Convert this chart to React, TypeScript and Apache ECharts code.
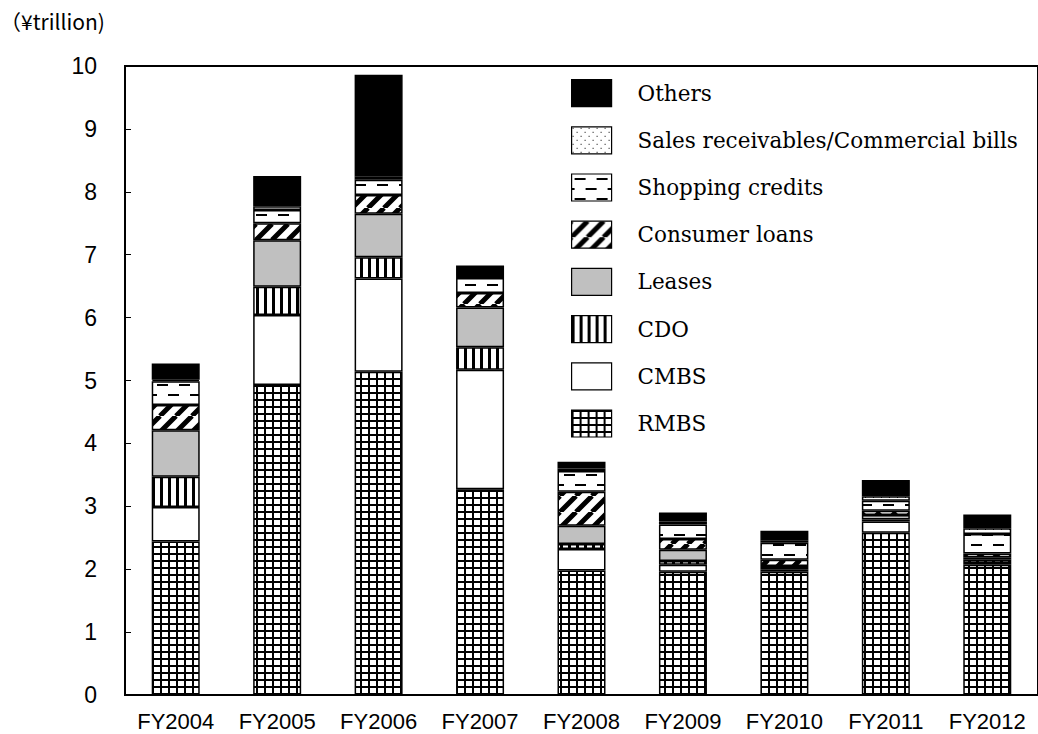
import React, { useEffect, useRef } from 'react';
import * as echarts from 'echarts';

const categories = ['FY2004', 'FY2005', 'FY2006', 'FY2007', 'FY2008', 'FY2009', 'FY2010', 'FY2011', 'FY2012'];
const rmbs = [2.44, 4.93, 5.14, 3.27, 1.98, 1.96, 1.96, 2.58, 2.07];
const cmbs = [0.55, 1.11, 1.48, 1.9, 0.34, 0.11, 0.03, 0.18, 0.03];
const cdo = [0.48, 0.45, 0.34, 0.36, 0.08, 0.06, 0.03, 0.03, 0.05];
const leases = [0.74, 0.74, 0.69, 0.63, 0.29, 0.18, 0.03, 0.07, 0.04];
const consumerLoans = [0.4, 0.27, 0.3, 0.23, 0.54, 0.17, 0.1, 0.07, 0.06];
const shoppingCredits = [0.38, 0.21, 0.24, 0.24, 0.33, 0.23, 0.27, 0.16, 0.31];
const salesReceivables = [0.02, 0.06, 0.05, 0.03, 0.04, 0.05, 0.04, 0.07, 0.09];
const others = [0.26, 0.48, 1.62, 0.17, 0.11, 0.14, 0.15, 0.26, 0.22];

const yTicks = { min: 0, max: 10, interval: 1 };
const unitLabel = '（¥trillion)';

function makePattern(w: number, h: number, draw: (ctx: CanvasRenderingContext2D) => void): any {
  const c = document.createElement('canvas');
  c.width = w;
  c.height = h;
  const ctx = c.getContext('2d')!;
  ctx.fillStyle = '#fff';
  ctx.fillRect(0, 0, w, h);
  ctx.fillStyle = '#000';
  ctx.strokeStyle = '#000';
  draw(ctx);
  return { image: c.toDataURL(), imageWidth: w, imageHeight: h, repeat: 'repeat' };
}

export default function App() {
  const ref = useRef<HTMLDivElement>(null);
  useEffect(() => {
    if (!ref.current) return;
    const chart = echarts.init(ref.current, null, { renderer: 'svg' });

    const gridPat = makePattern(8, 7, (ctx) => {
      ctx.fillRect(0, 0, 2, 7);
      ctx.fillRect(0, 0, 8, 2);
    });
    const vStripe = makePattern(8, 8, (ctx) => {
      ctx.fillRect(0, 0, 3, 8);
    });
    const diag = makePattern(16, 16, (ctx) => {
      ctx.lineWidth = 5;
      ctx.beginPath();
      ctx.moveTo(-16, 16); ctx.lineTo(0, 0);
      ctx.moveTo(0, 16); ctx.lineTo(16, 0);
      ctx.moveTo(16, 16); ctx.lineTo(32, 0);
      ctx.stroke();
    });
    const dashes = makePattern(22, 20, (ctx) => {
      ctx.fillRect(3, 4, 11, 2);
      ctx.fillRect(14, 14, 8, 2);
      ctx.fillRect(0, 14, 3, 2);
    });
    const dots = makePattern(8, 8, (ctx) => {
      ctx.fillRect(1, 1, 1, 1);
      ctx.fillRect(5, 5, 1, 1);
    });

    const defs: [string, number[], any][] = [
      ['RMBS', rmbs, gridPat],
      ['CMBS', cmbs, '#ffffff'],
      ['CDO', cdo, vStripe],
      ['Leases', leases, '#c0c0c0'],
      ['Consumer loans', consumerLoans, diag],
      ['Shopping credits', shoppingCredits, dashes],
      ['Sales receivables/Commercial bills', salesReceivables, dots],
      ['Others', others, '#000000'],
    ];

    const series = defs.map(([name, data, color]) => ({
      name,
      type: 'bar',
      stack: 'total',
      barWidth: 48,
      data,
      itemStyle: { color, borderColor: '#000', borderWidth: 1.5 },
    }));

    chart.setOption({
      animation: false,
      backgroundColor: '#fff',
      grid: {
        left: 125,
        top: 66,
        width: 922,
        height: 629,
        show: true,
        borderColor: '#000',
        borderWidth: 2,
        backgroundColor: 'transparent',
      },
      legend: {
        orient: 'vertical',
        left: 566,
        top: 74,
        icon: 'rect',
        itemWidth: 40,
        itemHeight: 27,
        itemGap: 19,
        data: defs.map((d) => d[0]).reverse(),
        itemStyle: { borderColor: '#000', borderWidth: 1.2 },
        textStyle: {
          fontFamily: 'DejaVu Serif',
          fontSize: 21.5,
          lineHeight: 27,
          color: '#000',
          padding: [0, 0, 0, 21],
        },
        selectedMode: false,
      },
      graphic: [
        {
          type: 'text',
          left: 0,
          top: 10,
          style: {
            text: unitLabel,
            font: '21px "Noto Sans CJK JP", "Noto Sans", sans-serif',
            fill: '#000',
          },
        },
      ],
      xAxis: {
        type: 'category',
        data: categories,
        axisLine: { lineStyle: { color: '#000', width: 2 } },
        axisTick: { inside: true, length: 5, lineStyle: { color: '#000' } },
        axisLabel: {
          color: '#000',
          fontFamily: 'Liberation Sans',
          fontSize: 22,
          margin: 15,
        },
      },
      yAxis: {
        type: 'value',
        min: yTicks.min,
        max: yTicks.max,
        interval: yTicks.interval,
        axisLine: { show: true, lineStyle: { color: '#000', width: 2 } },
        axisTick: { show: true, inside: true, length: 6, lineStyle: { color: '#000' } },
        splitLine: { show: false },
        axisLabel: {
          color: '#000',
          fontFamily: 'Liberation Sans',
          fontSize: 23,
          margin: 28,
        },
      },
      series,
    });

    return () => chart.dispose();
  }, []);

  return (
    <div
      ref={ref}
      style={{ position: 'absolute', left: 0, top: 0, width: 1038, height: 734, background: '#fff' }}
    />
  );
}
